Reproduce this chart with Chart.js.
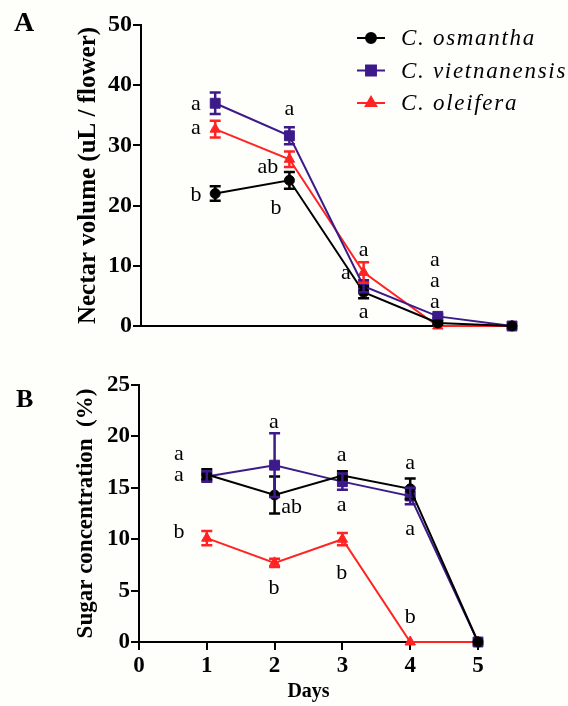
<!DOCTYPE html>
<html><head><meta charset="utf-8">
<script src="https://cdn.jsdelivr.net/npm/chart.js@4.4.1/dist/chart.umd.min.js"></script>
<style>
html,body{margin:0;padding:0;background:#fefefb;}
#wrap{position:relative;width:568px;height:706px;overflow:hidden;}
canvas{position:absolute;left:0;}
#cA{top:0;} #cB{top:345px;}
.lbl{position:absolute;font-family:"Liberation Serif",serif;font-weight:bold;}
</style></head>
<body><div id="wrap">
<canvas id="cA" width="568" height="345"></canvas>
<canvas id="cB" width="568" height="361"></canvas>
<div class="lbl" style="left:14px;top:6px;font-size:28px;">A</div>
<div class="lbl" style="left:16px;top:384px;font-size:26px;">B</div>
</div>
<script>
const days = [1, 2, 3, 4, 5];
const speciesNames = ['C. osmantha', 'C. vietnanensis', 'C. oleifera'];
const speciesColors = ['#000000', '#3d1a8a', '#ff2323'];
const speciesMarkers = ['circle', 'rect', 'triangle'];

// Panel A: nectar volume (uL / flower)
const nectarOsmantha = [22.0, 24.2, 5.6, 0.5, 0];
const nectarOsmanthaErr = [1.2, 1.4, 1.0, 0.3, 0];
const nectarVietnanensis = [37.0, 31.6, 6.6, 1.6, 0];
const nectarVietnanensisErr = [1.8, 1.4, 1.0, 0.3, 0];
const nectarOleifera = [32.7, 27.7, 8.9, 0, 0];
const nectarOleiferaErr = [1.4, 1.3, 1.7, 0, 0];
const nectarTicks = [0, 10, 20, 30, 40, 50];

// Panel B: sugar concentration (%)
const sugarOsmantha = [16.3, 14.3, 16.2, 14.9, 0];
const sugarOsmanthaErr = [0.5, 1.8, 0.4, 1.0, 0];
const sugarVietnanensis = [16.1, 17.2, 15.6, 14.2, 0];
const sugarVietnanensisErr = [0.5, 3.1, 0.8, 0.8, 0];
const sugarOleifera = [10.1, 7.7, 10.0, 0, 0];
const sugarOleiferaErr = [0.7, 0.4, 0.6, 0, 0];
const sugarTicks = [0, 5, 10, 15, 20, 25];
const dayTicks = [0, 1, 2, 3, 4, 5];

// significance letters [day position, value position, text]
const lettersA = [
  [0.74, 36.9, 'a'], [0.74, 32.9, 'a'], [0.74, 21.8, 'b'],
  [2.0, 36.0, 'a'], [1.71, 26.4, 'ab'], [1.82, 19.6, 'b'],
  [3.0, 12.6, 'a'], [2.76, 8.8, 'a'], [3.0, 2.3, 'a'],
  [3.96, 11.0, 'a'], [3.96, 7.4, 'a'], [3.96, 4.0, 'a']
];
const lettersB = [
  [0.59, 18.3, 'a'], [0.59, 16.2, 'a'], [0.59, 10.7, 'b'],
  [1.99, 21.4, 'a'], [2.25, 13.1, 'ab'], [1.99, 5.2, 'b'],
  [2.99, 18.2, 'a'], [2.99, 13.3, 'a'], [2.99, 6.7, 'b'],
  [4.0, 17.4, 'a'], [4.0, 11.0, 'a'], [4.0, 2.4, 'b']
];

const SERIF = '"Liberation Serif", "Times New Roman", serif';

function makeDatasets(vals, errs) {
  return vals.map((v, i) => ({
    label: speciesNames[i],
    data: days.map((d, j) => ({x: d, y: v[j]})),
    errors: errs[i],
    borderColor: speciesColors[i],
    backgroundColor: speciesColors[i],
    pointStyle: speciesMarkers[i],
    pointRadius: speciesMarkers[i] === 'circle' ? 5 : (speciesMarkers[i] === 'rect' ? 7 : 6),
    pointBorderWidth: 1,
    borderWidth: 2,
    tension: 0,
    clip: false
  }));
}

const errorBars = {
  id: 'errorBars',
  afterDatasetsDraw(chart) {
    const ctx = chart.ctx, ys = chart.scales.y, xs = chart.scales.x;
    chart.data.datasets.forEach(ds => {
      ctx.save();
      ctx.strokeStyle = ds.borderColor;
      ctx.lineWidth = 2.5;
      ds.data.forEach((p, j) => {
        const e = ds.errors[j];
        if (!e) return;
        const x = xs.getPixelForValue(p.x);
        const y1 = ys.getPixelForValue(p.y + e), y2 = ys.getPixelForValue(p.y - e);
        ctx.beginPath();
        ctx.moveTo(x, y1); ctx.lineTo(x, y2);
        ctx.moveTo(x - 5.5, y1); ctx.lineTo(x + 5.5, y1);
        ctx.moveTo(x - 5.5, y2); ctx.lineTo(x + 5.5, y2);
        ctx.stroke();
      });
      ctx.restore();
    });
  }
};

function lettersPlugin(list) {
  return {
    id: 'letters',
    afterDraw(chart) {
      const ctx = chart.ctx, ys = chart.scales.y, xs = chart.scales.x;
      ctx.save();
      ctx.font = '22px ' + SERIF;
      ctx.fillStyle = '#000';
      ctx.textAlign = 'center';
      ctx.textBaseline = 'middle';
      list.forEach(([dx, vy, t]) => ctx.fillText(t, xs.getPixelForValue(dx), ys.getPixelForValue(vy)));
      ctx.restore();
    }
  };
}

const legendPlugin = {
  id: 'legendA',
  afterDraw(chart) {
    const ctx = chart.ctx;
    chart.data.datasets.forEach((ds, i) => {
      const y = 38 + i * 32.5;
      ctx.save();
      ctx.strokeStyle = ds.borderColor; ctx.lineWidth = 2;
      ctx.beginPath(); ctx.moveTo(357, y); ctx.lineTo(385, y); ctx.stroke();
      Chart.helpers.drawPoint(ctx, {pointStyle: ds.pointStyle, radius: ds.pointRadius, borderWidth: 1}, 371, y);
      ctx.fillStyle = ds.borderColor; ctx.fill();
      ctx.fillStyle = '#000';
      ctx.font = 'italic 23px ' + SERIF;
      if ('letterSpacing' in ctx) ctx.letterSpacing = '1.7px';
      ctx.textBaseline = 'middle';
      ctx.fillText(ds.label, 401, y + 1);
      ctx.restore();
    });
  }
};

function axisCommon() {
  return {
    border: {display: true, color: '#000', width: 2},
    grid: {drawOnChartArea: false, drawTicks: true, tickLength: 8, color: '#000', lineWidth: 2}
  };
}

function build() {
// Panel A
new Chart(document.getElementById('cA'), {
  type: 'line',
  data: {datasets: makeDatasets([nectarOsmantha, nectarVietnanensis, nectarOleifera],
                                [nectarOsmanthaErr, nectarVietnanensisErr, nectarOleiferaErr])},
  options: {
    responsive: false, animation: false, events: [],
    layout: {padding: {left: 0, top: 25, right: 56, bottom: 19}},
    plugins: {legend: {display: false}, tooltip: {enabled: false}},
    scales: {
      x: Object.assign(axisCommon(), {
        type: 'linear', min: 0, max: 5,
        grid: {drawOnChartArea: false, drawTicks: false, color: '#000', lineWidth: 2},
        ticks: {display: false},
        afterFit(s) { s.height = 0; }
      }),
      y: Object.assign(axisCommon(), {
        type: 'linear', min: 0, max: 50,
        afterBuildTicks(s) { s.ticks = nectarTicks.map(v => ({value: v})); },
        ticks: {color: '#000', padding: 1, font: {family: SERIF, size: 24, weight: 'bold'}},
        title: {display: true, text: 'Nectar volume (uL / flower)', color: '#000',
                font: {family: SERIF, size: 25, weight: 'bold'}, padding: {top: 74, bottom: 0}},
        afterFit(s) { s.width = 141; }
      })
    }
  },
  plugins: [errorBars, lettersPlugin(lettersA), legendPlugin]
});

// Panel B
new Chart(document.getElementById('cB'), {
  type: 'line',
  data: {datasets: makeDatasets([sugarOsmantha, sugarVietnanensis, sugarOleifera],
                                [sugarOsmanthaErr, sugarVietnanensisErr, sugarOleiferaErr])},
  options: {
    responsive: false, animation: false, events: [],
    layout: {padding: {left: 0, top: 40, right: 90, bottom: 0}},
    plugins: {legend: {display: false}, tooltip: {enabled: false}},
    scales: {
      x: Object.assign(axisCommon(), {
        type: 'linear', min: 0, max: 5,
        afterBuildTicks(s) { s.ticks = dayTicks.map(v => ({value: v})); },
        ticks: {color: '#000', padding: 2, maxRotation: 0, font: {family: SERIF, size: 23, weight: 'bold'}},
        title: {display: true, text: 'Days', color: '#000',
                font: {family: SERIF, size: 20, weight: 'bold'}, padding: {top: 0, bottom: 2}},
        afterFit(s) { s.height = 64; }
      }),
      y: Object.assign(axisCommon(), {
        type: 'linear', min: 0, max: 25,
        afterBuildTicks(s) { s.ticks = sugarTicks.map(v => ({value: v})); },
        ticks: {color: '#000', padding: 1, font: {family: SERIF, size: 23, weight: 'bold'}},
        title: {display: true, text: 'Sugar concentration  (%)', color: '#000',
                font: {family: SERIF, size: 23, weight: 'bold'}, padding: {top: 72, bottom: 0}},
        afterFit(s) { s.width = 139; }
      })
    }
  },
  plugins: [errorBars, lettersPlugin(lettersB)]
});
}

Promise.all([
  document.fonts.load('22px "Liberation Serif"'),
  document.fonts.load('bold 22px "Liberation Serif"'),
  document.fonts.load('italic 22px "Liberation Serif"')
]).then(build, build);
</script>
</body></html>
